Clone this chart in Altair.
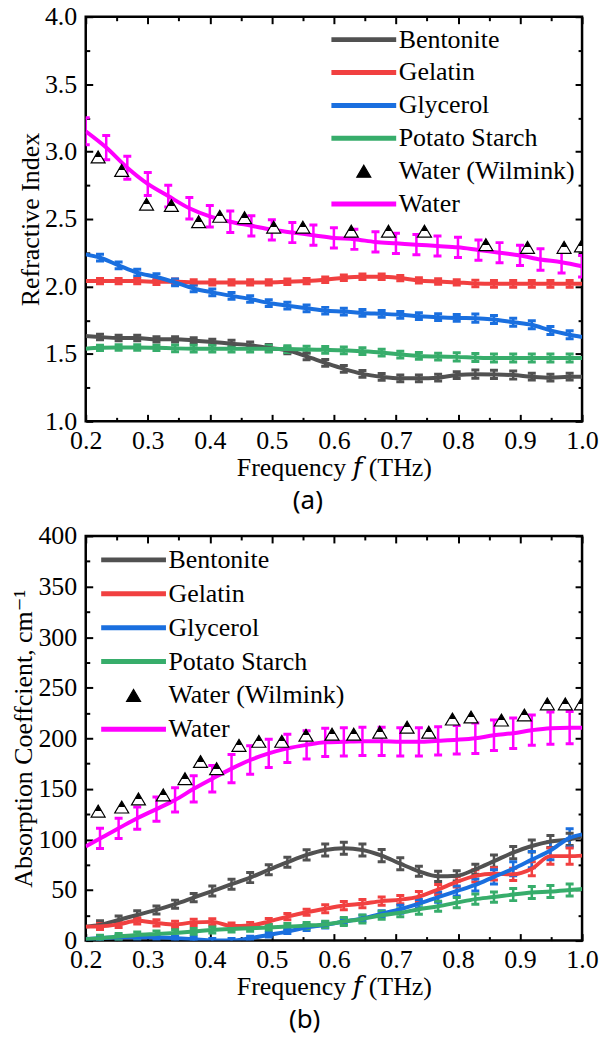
import altair as alt
import pandas as pd

SERIF = "Liberation Serif, Times New Roman, DejaVu Serif, serif"
SANS = "Noto Sans"
FS = 26

SERIES = ["Bentonite", "Gelatin", "Glycerol", "Potato Starch", "Water (Wilmink)", "Water"]
COLORS = ["#515151", "#F14040", "#1A6FDF", "#37AD6B", "#000000", "#FF00FF"]

# frequency grid of the measured samples (first/last = line ends, no error bar)
FREQ = [0.200, 0.223, 0.253, 0.283, 0.314, 0.344, 0.374, 0.404, 0.435, 0.465,
        0.495, 0.525, 0.556, 0.586, 0.616, 0.646, 0.677, 0.707, 0.737, 0.768,
        0.798, 0.828, 0.858, 0.889, 0.919, 0.949, 0.980, 1.000]

# ---------------- panel (a): refractive index ----------------
BEN_A = [1.632, 1.625, 1.618, 1.618, 1.608, 1.608, 1.600, 1.588, 1.576, 1.564,
         1.544, 1.527, 1.482, 1.434, 1.389, 1.352, 1.330, 1.319, 1.319, 1.324,
         1.343, 1.350, 1.348, 1.343, 1.331, 1.324, 1.331, 1.330]
BEN_A_ERR = [0, 0.02, 0.02, 0.02, 0.02, 0.02, 0.02, 0.02, 0.025, 0.025, 0.025, 0.025, 0.025, 0.025,
             0.025, 0.025, 0.025, 0.025, 0.025, 0.025, 0.025, 0.03, 0.03, 0.03, 0.025, 0.025, 0.025, 0]
GEL_A = [2.040, 2.040, 2.040, 2.040, 2.035, 2.035, 2.030, 2.030, 2.030, 2.030,
         2.030, 2.035, 2.040, 2.050, 2.065, 2.072, 2.072, 2.062, 2.045, 2.037,
         2.030, 2.022, 2.020, 2.020, 2.020, 2.020, 2.020, 2.020]
GEL_A_ERR = [0, 0.02, 0.02, 0.02, 0.02, 0.02, 0.02, 0.02, 0.02, 0.02, 0.02, 0.02, 0.02, 0.02,
             0.02, 0.02, 0.02, 0.02, 0.02, 0.02, 0.02, 0.025, 0.025, 0.025, 0.025, 0.025, 0.025, 0]
GLY_A = [2.238, 2.213, 2.157, 2.103, 2.070, 2.030, 1.985, 1.956, 1.930, 1.907,
         1.877, 1.858, 1.838, 1.820, 1.814, 1.804, 1.797, 1.790, 1.780, 1.772,
         1.767, 1.765, 1.755, 1.735, 1.716, 1.674, 1.642, 1.625]
GLY_A_ERR = [0, 0.025, 0.025, 0.025, 0.025, 0.025, 0.025, 0.025, 0.025, 0.025, 0.025, 0.025, 0.025, 0.025,
             0.025, 0.025, 0.025, 0.025, 0.025, 0.025, 0.025, 0.03, 0.03, 0.03, 0.03, 0.03, 0.03, 0]
POT_A = [1.539, 1.545, 1.547, 1.547, 1.545, 1.541, 1.539, 1.539, 1.539, 1.539,
         1.539, 1.536, 1.532, 1.530, 1.527, 1.520, 1.510, 1.495, 1.485, 1.480,
         1.478, 1.473, 1.470, 1.470, 1.470, 1.470, 1.470, 1.470]
POT_A_ERR = [0, 0.02, 0.02, 0.02, 0.02, 0.025, 0.025, 0.025, 0.025, 0.025, 0.025, 0.025, 0.025, 0.025,
             0.025, 0.025, 0.025, 0.025, 0.025, 0.025, 0.03, 0.03, 0.03, 0.03, 0.03, 0.03, 0.03, 0]
WAT_A_FREQ = [0.200, 0.233, 0.267, 0.300, 0.333, 0.367, 0.400, 0.433, 0.467, 0.500,
              0.533, 0.567, 0.600, 0.633, 0.667, 0.700, 0.733, 0.767, 0.800, 0.833,
              0.867, 0.900, 0.933, 0.967, 1.000]
WAT_A = [3.150, 3.030, 2.880, 2.760, 2.670, 2.580, 2.520, 2.480, 2.450, 2.420,
         2.400, 2.380, 2.360, 2.350, 2.330, 2.320, 2.310, 2.300, 2.290, 2.270,
         2.250, 2.230, 2.200, 2.180, 2.150]
WAT_A_ERR = [0.10, 0.09, 0.085, 0.085, 0.08, 0.08, 0.08, 0.08, 0.075, 0.075, 0.075, 0.075, 0.075,
             0.075, 0.075, 0.075, 0.075, 0.075, 0.075, 0.075, 0.075, 0.075, 0.08, 0.08, 0.08]
WIL_A_FREQ = [0.220, 0.258, 0.298, 0.338, 0.382, 0.416, 0.456, 0.503, 0.550, 0.628,
              0.688, 0.746, 0.845, 0.912, 0.971, 0.999]
WIL_A = [2.96, 2.86, 2.61, 2.60, 2.48, 2.52, 2.51, 2.44, 2.44, 2.41,
         2.41, 2.41, 2.31, 2.29, 2.29, 2.30]

# ---------------- panel (b): absorption coefficient ----------------
BEN_B = [13.8, 15.5, 20.4, 25.4, 30.3, 36.0, 42.5, 49.0, 55.7, 62.3,
         70.0, 77.5, 84.7, 89.6, 91.3, 89.6, 84.0, 76.0, 68.5, 63.5,
         64.0, 70.5, 78.5, 87.0, 93.5, 98.0, 100.0, 103.0]
BEN_B_ERR = [0, 4, 4, 4, 4, 4, 4, 5, 5, 5, 5, 5, 5, 6, 6, 6, 6, 6, 5, 5, 5, 5, 6, 6, 6, 6, 6, 0]
GEL_B = [13.8, 14.0, 16.0, 19.5, 17.5, 16.0, 18.0, 18.5, 14.5, 15.0,
         18.8, 23.7, 28.0, 31.5, 34.6, 36.5, 39.0, 40.5, 43.5, 50.5,
         58.0, 64.0, 66.0, 65.5, 71.0, 83.5, 83.5, 84.0]
GEL_B_ERR = [0, 3, 3, 3, 3, 3, 3, 3, 3, 3, 3, 3, 3, 4, 4, 4, 4, 4, 5, 5, 5, 6, 6, 6, 7, 8, 8, 0]
GLY_B = [1.6, 2.3, 3.3, 3.3, 3.3, 2.3, 1.3, 0.0, 0.0, 2.3,
         5.6, 8.9, 12.9, 15.5, 18.8, 22.0, 26.5, 31.0, 36.5, 43.0,
         49.0, 55.0, 63.0, 71.0, 80.0, 89.0, 101.5, 105.0]
GLY_B_ERR = [0, 2, 2, 2, 2, 2, 2, 2, 2, 2, 2, 2, 3, 3, 3, 3, 3, 4, 4, 5, 5, 6, 7, 7, 8, 9, 9, 0]
POT_B = [1.3, 2.3, 4.0, 5.6, 6.6, 7.6, 8.9, 10.5, 11.5, 12.2,
         12.9, 13.8, 14.8, 16.0, 18.8, 21.4, 25.0, 27.5, 31.0, 34.0,
         37.5, 41.0, 43.0, 45.5, 47.5, 48.5, 50.0, 51.0]
POT_B_ERR = [0, 3, 3, 3, 3, 3, 3, 3, 3, 3, 3, 3, 3, 3, 4, 4, 4, 4, 5, 5, 5, 5, 5, 6, 6, 6, 6, 0]
WAT_B = [93.0, 101.0, 111.0, 121.0, 130.0, 139.0, 150.0, 160.0, 170.0, 178.5,
         185.0, 190.0, 193.5, 196.0, 196.5, 197.0, 197.0, 196.5, 196.5, 197.5,
         198.5, 200.0, 203.0, 205.0, 208.0, 210.0, 210.5, 210.5]
WAT_B_ERR = [0, 10, 10, 11, 12, 12, 13, 13, 14, 14, 14, 14, 14, 14, 14, 14, 14, 14, 14, 14,
             14, 15, 15, 15, 15, 16, 16, 0]
WIL_B_FREQ = [0.220, 0.258, 0.285, 0.325, 0.360, 0.385, 0.411, 0.447, 0.479, 0.516,
              0.555, 0.597, 0.632, 0.674, 0.718, 0.753, 0.791, 0.821, 0.870, 0.907,
              0.944, 0.973, 0.999]
WIL_B = [128, 132, 140, 144, 160, 177, 170, 193, 197, 197,
         203, 204, 204, 206, 211, 206, 219, 221, 218, 223,
         234, 234, 234]

X_MAJ = [0.2, 0.3, 0.4, 0.5, 0.6, 0.7, 0.8, 0.9, 1.0]
X_MIN = [0.25, 0.35, 0.45, 0.55, 0.65, 0.75, 0.85, 0.95]
YA_MAJ = [1.0, 1.5, 2.0, 2.5, 3.0, 3.5, 4.0]
YA_MIN = [1.25, 1.75, 2.25, 2.75, 3.25, 3.75]
YB_MAJ = [0, 50, 100, 150, 200, 250, 300, 350, 400]
YB_MIN = [25, 75, 125, 175, 225, 275, 325, 375]


def long_table(entries):
    rows = []
    for name, xs, ys, es in entries:
        for i, (x, y) in enumerate(zip(xs, ys)):
            e = es[i] if es is not None else 0
            rows.append({"s": name, "f": x, "v": y, "lo": y - e, "hi": y + e, "e": e})
    return pd.DataFrame(rows)


lines_a = long_table([
    ("Bentonite", FREQ, BEN_A, BEN_A_ERR),
    ("Gelatin", FREQ, GEL_A, GEL_A_ERR),
    ("Glycerol", FREQ, GLY_A, GLY_A_ERR),
    ("Potato Starch", FREQ, POT_A, POT_A_ERR),
    ("Water", WAT_A_FREQ, WAT_A, WAT_A_ERR),
])
wil_a = pd.DataFrame({"f": WIL_A_FREQ, "v": WIL_A})

lines_b = long_table([
    ("Bentonite", FREQ, BEN_B, BEN_B_ERR),
    ("Gelatin", FREQ, GEL_B, GEL_B_ERR),
    ("Glycerol", FREQ, GLY_B, GLY_B_ERR),
    ("Potato Starch", FREQ, POT_B, POT_B_ERR),
    ("Water", FREQ, WAT_B, WAT_B_ERR),
])
wil_b = pd.DataFrame({"f": WIL_B_FREQ, "v": WIL_B})

TRI = "M0,-0.85L1,0.85L-1,0.85Z"
LEG_LINE = "M-3.25,0L3.25,0"
LEG_TRI = "M0,-0.6L0.7,0.6L-0.7,0.6Z"
HALF = {"gradient": "linear", "x1": 0, "y1": 0, "x2": 0, "y2": 1,
        "stops": [{"offset": 0, "color": "black"}, {"offset": 0.5, "color": "black"},
                  {"offset": 0.5, "color": "white"}, {"offset": 1, "color": "white"}]}
IS_WIL = "datum.value === 'Water (Wilmink)'"


def axis(orient, values, size, labels=False, title=None, fmt=None, lpad=8, tpad=4):
    kw = dict(orient=orient, values=values, tickSize=size, offset=-size, domain=False,
              grid=False, ticks=True, tickColor="black", tickWidth=2, labels=labels, title=title)
    if labels:
        kw.update(format=fmt, labelFont=SERIF, labelFontSize=FS, labelColor="black",
                  labelPadding=lpad, labelFlush=False, labelOverlap=False)
    if title:
        kw.update(titleFont=SERIF, titleFontSize=FS, titleFontWeight="normal",
                  titleColor="black", titlePadding=tpad)
    return alt.Axis(**kw)


def legend(x, y, rowpad):
    return alt.Legend(
        title=None, orient="none", legendX=x, legendY=y, padding=0,
        symbolType=alt.ExprRef(f"{IS_WIL} ? '{LEG_TRI}' : '{LEG_LINE}'"),
        symbolSize=400,
        symbolStrokeWidth=alt.ExprRef(f"{IS_WIL} ? 1.2 : 5"),
        symbolFillColor=alt.ExprRef(f"{IS_WIL} ? 'black' : 'transparent'"),
        labelFont=SERIF, labelFontSize=FS, labelColor="black", labelOffset=22,
        labelLimit=0, rowPadding=rowpad, symbolLimit=0,
    )


def panel(lines, wil, ydom, ymaj, ymin, yfmt, ytitle, leg, title):
    xsc = alt.Scale(domain=[0.2, 1.0], nice=False, zero=False)
    ysc = alt.Scale(domain=ydom, nice=False, zero=False)
    cscale = alt.Scale(domain=SERIES, range=COLORS)
    col = alt.Color("s:N", scale=cscale, legend=leg)
    errs = lines[lines["e"] > 0]

    rules = alt.Chart(errs).mark_rule(strokeWidth=2.5, clip=True).encode(
        x=alt.X("f:Q", scale=xsc, axis=axis("top", X_MAJ, 7)),
        y=alt.Y("lo:Q", scale=ysc, axis=axis("right", ymaj, 7)),
        y2="hi:Q", color=col)
    caps_lo = alt.Chart(errs).mark_tick(orient="horizontal", size=8, thickness=3, clip=True, opacity=1).encode(
        x=alt.X("f:Q", scale=xsc, axis=axis("bottom", X_MIN, 4)),
        y=alt.Y("lo:Q", scale=ysc, axis=axis("left", ymin, 4)), color=col)
    caps_hi = alt.Chart(errs).mark_tick(orient="horizontal", size=8, thickness=3, clip=True, opacity=1).encode(
        x=alt.X("f:Q", scale=xsc, axis=axis("top", X_MIN, 4)),
        y=alt.Y("hi:Q", scale=ysc, axis=axis("right", ymin, 4)), color=col)
    line = alt.Chart(lines).mark_line(strokeWidth=4, interpolate="monotone", clip=True).encode(
        x=alt.X("f:Q", scale=xsc,
                axis=axis("bottom", X_MAJ, 7, labels=True, title="Frequency \U0001D453 (THz)", fmt=".1f", lpad=6, tpad=1)),
        y=alt.Y("v:Q", scale=ysc,
                axis=axis("left", ymaj, 7, labels=True, title=ytitle, fmt=yfmt, lpad=9, tpad=1)),
        color=col)
    tri = alt.Chart(wil).mark_point(shape=TRI, size=196, filled=True, fill=HALF, stroke="black",
                                    strokeWidth=1.2, opacity=1, clip=True).encode(
        x=alt.X("f:Q", scale=xsc, axis=None),
        y=alt.Y("v:Q", scale=ysc, axis=None))
    return alt.layer(rules, caps_lo, caps_hi, line, tri).resolve_axis(
        x="independent", y="independent").properties(
        width=498, height=406,
        title=alt.TitleParams(title, orient="bottom", anchor="middle", frame="bounds",
                              font=SANS, fontSize=FS, fontWeight="normal", color="black", offset=8))


chart_a = panel(lines_a, wil_a, [1.0, 4.0], YA_MAJ, YA_MIN, ".1f", "Refractive Index",
                legend(266, 10, 7), "(a)")
chart_b = panel(lines_b, wil_b, [0, 400], YB_MAJ, YB_MIN, "d", "Absorption Coeffcient, cm\u207b\u00b9",
                legend(35, 11, 8), "(b)")

chart = alt.vconcat(chart_a, chart_b, spacing=5).resolve_scale(
    x="independent", y="independent", color="independent").resolve_legend(
    color="independent").configure(
    padding={"left": 1, "top": -8, "right": 0, "bottom": 0}).configure_view(
    stroke="black", strokeWidth=2.5)

chart.save("out.html", embed_options={"renderer": "svg", "actions": False})
